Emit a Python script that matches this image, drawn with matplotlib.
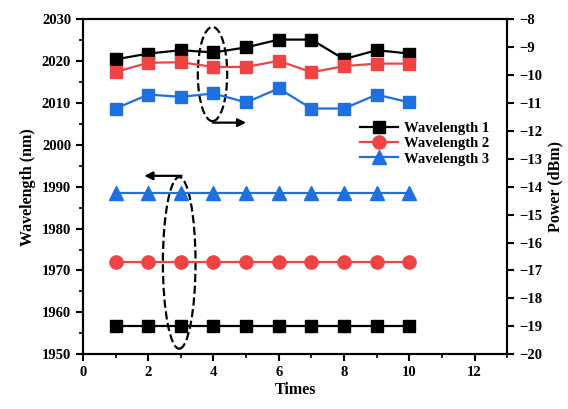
import matplotlib
matplotlib.use("Agg")
import matplotlib.pyplot as plt
from matplotlib.patches import Ellipse
from matplotlib.ticker import MultipleLocator

plt.rcParams['font.family'] = ['Liberation Serif', 'DejaVu Serif']
plt.rcParams['font.weight'] = 'bold'

times = [1, 2, 3, 4, 5, 6, 7, 8, 9, 10]
wl1 = [1956.7] * 10
wl2 = [1972.0] * 10
wl3 = [1988.4] * 10
pw1 = [-9.44, -9.23, -9.11, -9.19, -9.01, -8.73, -8.73, -9.43, -9.11, -9.23]
pw2 = [-9.89, -9.56, -9.54, -9.71, -9.71, -9.49, -9.90, -9.68, -9.59, -9.59]
pw3 = [-11.20, -10.70, -10.78, -10.66, -10.98, -10.48, -11.20, -11.20, -10.70, -10.98]
labels = ['Wavelength 1', 'Wavelength 2', 'Wavelength 3']

c1, c2, c3 = '#000000', '#F04444', '#1E70DE'

fig = plt.figure(figsize=(5.68, 4.09), dpi=100)
ax = fig.add_axes([0.146, 0.134, 0.747, 0.819])
ax2 = ax.twinx()

h1, = ax.plot(times, wl1, color=c1, marker='s', ms=9, lw=1.6, label=labels[0])
h2, = ax.plot(times, wl2, color=c2, marker='o', ms=9.5, lw=1.6, label=labels[1])
h3, = ax.plot(times, wl3, color=c3, marker='^', ms=10, lw=1.6, label=labels[2])

ax2.plot(times, pw1, color=c1, marker='s', ms=9, lw=1.6)
ax2.plot(times, pw2, color=c2, marker='s', ms=9, lw=1.6)
ax2.plot(times, pw3, color=c3, marker='s', ms=9, lw=1.6)

ax.set_xlim(0, 13)
ax.set_ylim(1950, 2030)
ax2.set_ylim(-20, -8)
ax.xaxis.set_major_locator(MultipleLocator(2))
ax.xaxis.set_minor_locator(MultipleLocator(1))
ax.yaxis.set_major_locator(MultipleLocator(10))
ax.yaxis.set_minor_locator(MultipleLocator(5))
ax2.yaxis.set_major_locator(MultipleLocator(1))

for a in (ax, ax2):
    for s in a.spines.values():
        s.set_linewidth(1.5)
ax.tick_params(axis='both', which='major', direction='out', length=5, width=1.5, labelsize=10.5)
ax.tick_params(axis='both', which='minor', direction='out', length=3, width=1.2)
ax2.tick_params(axis='y', which='major', direction='out', length=5, width=1.5, labelsize=10.5)
for lab in ax.get_xticklabels() + ax.get_yticklabels() + ax2.get_yticklabels():
    lab.set_fontweight('bold')

ax.set_xlabel('Times', fontsize=11.5, fontweight='bold', labelpad=2)
ax.set_ylabel('Wavelength (nm)', fontsize=11.5, fontweight='bold', labelpad=4)
ax2.set_ylabel('Power (dBm)', fontsize=11.5, fontweight='bold', labelpad=4)

# dashed ellipses and arrows
e1 = Ellipse((3.97, 2016.9), 0.9, 22.5, angle=0, fill=False, ls='--', lw=1.6, color='black')
ax.add_patch(e1)
ax.annotate('', xy=(5.0, 2005.3), xytext=(3.98, 2005.3),
            arrowprops=dict(arrowstyle='-|>', color='black', lw=1.6, mutation_scale=12,
                            shrinkA=0, shrinkB=0))
e2 = Ellipse((2.95, 1971.8), 1.0, 41, angle=0, fill=False, ls='--', lw=1.6, color='black')
ax.add_patch(e2)
ax.annotate('', xy=(1.88, 1992.6), xytext=(3.02, 1992.6),
            arrowprops=dict(arrowstyle='-|>', color='black', lw=1.6, mutation_scale=12,
                            shrinkA=0, shrinkB=0))

leg = ax.legend(handles=[h1, h2, h3], loc='upper left', bbox_to_anchor=(0.63, 0.725),
                frameon=False, fontsize=10.5, handlelength=2.6, labelspacing=0.15,
                borderpad=0.2, handletextpad=0.4)
for t in leg.get_texts():
    t.set_fontweight('bold')

fig.savefig('out.png', dpi=100)
